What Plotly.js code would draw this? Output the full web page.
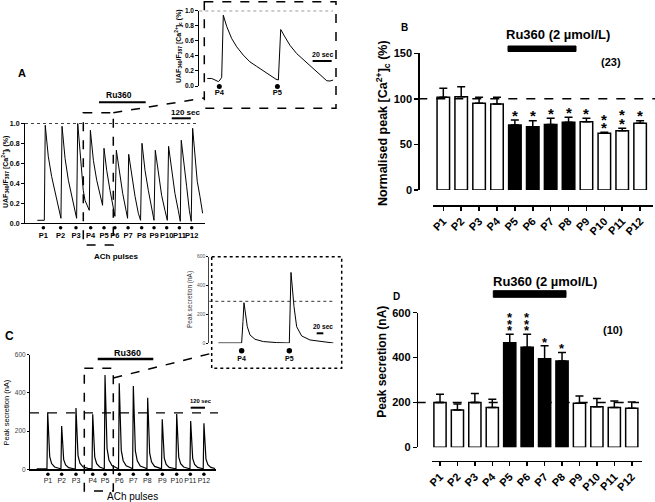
<!DOCTYPE html>
<html>
<head>
<meta charset="utf-8">
<script src="https://cdn.plot.ly/plotly-3.0.1.min.js"></script>
<style>html,body{margin:0;padding:0;background:#fff;}#chart{width:655px;height:502px;}</style>
</head>
<body>
<div id="chart"></div>
<script>
// ---------------- DATA ----------------
const pulseLabels = ['P1','P2','P3','P4','P5','P6','P7','P8','P9','P10','P11','P12'];
const ru360Pulses = [false,false,false,false,true,true,true,true,false,false,false,false];

// Panel A: [Ca2+]i ratio trace (time in s)
const aTime = [78,116,122,128,147,168,189,211,227, 234,253,274,295,316,326, 333,347,358,368,379,394,406,
  413,432,453,474,490, 499,516,537,558,568, 577,596,617,638,648, 655,674,695,716,730,
  739,758,779,800,815, 823,842,863,884,899, 907,926,947,968,981, 987,1004,1021,1038,1050,
  1059,1074,1088,1105,1122];
const aRatio = [0.03,0.03,0.03,0.98,0.67,0.47,0.32,0.18,0.05, 0.97,0.65,0.43,0.27,0.13,0.05, 1.0,0.7,0.5,0.33,0.23,0.18,0.13,
  0.93,0.63,0.43,0.28,0.18, 0.75,0.53,0.33,0.15,0.07, 0.73,0.5,0.3,0.13,0.05, 0.69,0.47,0.27,0.1,0.03,
  0.8,0.53,0.33,0.17,0.03, 0.73,0.5,0.28,0.13,0.03, 0.77,0.52,0.3,0.13,0.02, 0.83,0.57,0.37,0.13,0.02,
  0.95,0.67,0.42,0.27,0.1];
const aPulseTime = [116,225,322,415,499,568,651,737,815,895,975,1053];
const aRefLevel = 1.0;

// Panel A inset (P4, P5)
const insetATime = [8.4,13,16.5,20,21.7,23.5,25.2,28.8,34,39.3,46.2,53.2,60.3,67.2,74.2,80.5,83,
  85.5,90,95.2,102.3,109.2,116.2,123.3,130.2,133.8,137.2,140.7];
const insetARatio = [0.10,0.10,0.08,0.058,0.08,0.115,0.94,0.79,0.63,0.52,0.41,0.32,0.26,0.20,0.15,0.09,0.08,
  0.75,0.65,0.54,0.43,0.35,0.28,0.20,0.115,0.07,0.066,0.08];
const insetAPulseTime = [21,82];
const insetPulseLabels = ['P4','P5'];

// Panel B: normalised peak [Ca2+]c (%)
const bMean = [101.7,102.4,95.1,94.4,71.3,69.5,72.0,74.3,75.0,62.2,65.1,73.2];
const bErr  = [9.9,11.0,6.6,7.3,5.5,6.5,6.7,5.5,3.7,1.1,2.6,2.8];
const bStars = [0,0,0,0,1,1,1,1,1,2,2,1];
const bRefLevel = 100;

// Panel C: secretion trace (nA)
const cTime = [56,100, 142,148,156,165,181,206,248, 259,265,273,282,298,323,365, 379,385,393,402,418,443,485,
  519,525,533,542,558,583,615, 622,628,636,645,661,686,728, 741,747,755,764,780,805,847,
  859,865,873,882,898,923,965, 979,985,993,1002,1018,1043,1085, 1101,1107,1115,1124,1140,1165,1207,
  1222,1228,1236,1245,1261,1286,1328, 1339,1345,1353,1362,1378,1403,1440, 1450,1456,1464,1473,1489,1514,1549];
const cSecretion = [3,3, 2,298,134,66,30,12,4, 2,227,102,50,23,9,3, 2,321,144,71,32,13,5,
  2,288,130,63,29,12,4, 3,494,222,109,49,20,7, 3,450,203,99,45,18,7,
  3,436,196,96,44,17,7, 3,375,169,83,38,15,6, 2,262,118,58,26,10,4,
  2,290,131,64,29,12,4, 2,253,114,56,25,10,4, 2,241,108,53,24,10,4];
const cPulseTime = [150,265,385,525,628,748,865,982,1108,1228,1342,1456];
const cRefLevel = 295;

// Panel C inset (P4, P5)
const insetCTime = [27,97,101,104,114,122,137,162,202,238,240,245,254,262,277,302,342,372];
const insetCSecretion = [2,2,150,281,115,58,28,12,5,1,2,491,254,115,51,23,9,2];
const insetCPulseTime = [97,240];
const insetCRefLevel = 291;

// Panel D: peak secretion (nA)
const dMean = [200,166,200,177,466,446,395,385,196,181,177,174];
const dErr  = [37,27,40,37,38,58,58,38,33,37,29,28];
const dStars = [0,0,0,0,3,3,1,1,0,0,0,0];
const dRefLevel = 200;

// ---------------- LAYOUT HELPERS ----------------
const W = 655, H = 502;
const px = x => x / W;
const py = y => 1 - y / H;
const FONT = 'Liberation Sans, Arial, sans-serif';
const idx = pulseLabels.map((_, i) => i);

function ann(text, x, y, size, o) {
  o = o || {};
  return Object.assign({
    text: text, x: px(x), y: py(y), xref: 'paper', yref: 'paper', showarrow: false,
    xanchor: 'center', yanchor: 'middle',
    font: {family: FONT, size: size, color: o.color || 'black', weight: o.bold === false ? 'normal' : 'bold'}
  }, o.extra || {});
}
function pline(x0, y0, x1, y1, w, dash) {
  return {type: 'line', xref: 'paper', yref: 'paper', x0: px(x0), y0: py(y0), x1: px(x1), y1: py(y1),
    line: {color: 'black', width: w, dash: dash || 'solid'}};
}
function prect(x0, y0, x1, y1, w, dash, fill) {
  return {type: 'rect', xref: 'paper', yref: 'paper', x0: px(x0), y0: py(y0), x1: px(x1), y1: py(y1),
    line: {color: 'black', width: w, dash: dash || 'solid'}, fillcolor: fill || 'rgba(0,0,0,0)'};
}

const traces = [];
// A main
traces.push({x: aTime, y: aRatio, xaxis: 'x', yaxis: 'y', mode: 'lines', line: {color: 'black', width: 1}});
traces.push({x: aPulseTime, y: aPulseTime.map(() => 0.5), xaxis: 'x', yaxis: 'y7', mode: 'markers',
  marker: {color: 'black', size: 3.5}});
// A inset
traces.push({x: insetATime, y: insetARatio, xaxis: 'x2', yaxis: 'y2', mode: 'lines', line: {color: 'black', width: 1}});
traces.push({x: insetAPulseTime, y: insetAPulseTime.map(() => 0.5), xaxis: 'x2', yaxis: 'y8', mode: 'markers',
  marker: {color: 'black', size: 5}});
// B bars
traces.push({type: 'bar', x: idx, y: bMean, xaxis: 'x3', yaxis: 'y3', width: 0.7,
  marker: {color: ru360Pulses.map(r => r ? 'black' : 'white'), line: {color: 'black', width: 1.5}},
  error_y: {type: 'data', symmetric: false, array: bErr, arrayminus: bErr.map(() => 0), color: 'black', thickness: 1.5, width: 4}});
// C main
traces.push({x: cTime, y: cSecretion, xaxis: 'x4', yaxis: 'y4', mode: 'lines', line: {color: 'black', width: 1.2}});
traces.push({x: cPulseTime, y: cPulseTime.map(() => 0.5), xaxis: 'x4', yaxis: 'y9', mode: 'markers',
  marker: {color: 'black', size: 3.5}});
// C inset
traces.push({x: insetCTime, y: insetCSecretion, xaxis: 'x5', yaxis: 'y5', mode: 'lines', line: {color: 'black', width: 1}});
traces.push({x: insetCPulseTime, y: insetCPulseTime.map(() => 0.5), xaxis: 'x5', yaxis: 'y10', mode: 'markers',
  marker: {color: 'black', size: 5.5}});
// D bars
traces.push({type: 'bar', x: idx, y: dMean, xaxis: 'x6', yaxis: 'y6', width: 0.7,
  marker: {color: ru360Pulses.map(r => r ? 'black' : 'white'), line: {color: 'black', width: 1.5}},
  error_y: {type: 'data', symmetric: false, array: dErr, arrayminus: dErr.map(() => 0), color: 'black', thickness: 1.5, width: 4}});

const base = {showgrid: false, zeroline: false, linecolor: 'black', tickcolor: 'black', fixedrange: true};
function dotAxis(anchor, centerPy) {
  return {domain: [py(centerPy + 4), py(centerPy - 4)], range: [0, 1], anchor: anchor, visible: false,
    showgrid: false, zeroline: false, fixedrange: true};
}

const layout = {
  width: W, height: H, margin: {l: 0, r: 0, t: 0, b: 0}, showlegend: false,
  paper_bgcolor: 'white', plot_bgcolor: 'rgba(0,0,0,0)', font: {family: FONT, color: 'black'},
  bargap: 0,
  // A main
  xaxis: Object.assign({}, base, {domain: [px(25), px(205)], range: [0, 1137], anchor: 'y', showline: true, linewidth: 1,
    ticks: '', tickangle: 0, tickvals: aPulseTime, ticktext: pulseLabels, ticklabelstandoff: 5,
    tickfont: {family: FONT, size: 7.5, weight: 'bold'}}),
  yaxis: Object.assign({}, base, {domain: [py(223.3), py(123.3)], range: [0, 1], anchor: 'x', showline: true, linewidth: 1,
    ticks: 'outside', ticklen: 3, tickvals: [0, 0.2, 0.4, 0.6, 0.8, 1.0], tickformat: '.1f',
    tickfont: {family: FONT, size: 7, weight: 'bold'}}),
  yaxis7: dotAxis('x', 227.8),
  // A inset
  xaxis2: Object.assign({}, base, {domain: [px(199.3), px(333.3)], range: [0, 140.7], anchor: 'y2', showline: false,
    ticks: '', tickangle: 0, tickvals: insetAPulseTime, ticktext: insetPulseLabels, ticklabelstandoff: 1.5,
    tickfont: {family: FONT, size: 7.5, weight: 'bold'}}),
  yaxis2: Object.assign({}, base, {domain: [py(86), py(10.7)], range: [0, 1], anchor: 'x2', showline: true, linewidth: 1,
    ticks: 'outside', ticklen: 3, tickvals: [0, 0.2, 0.4, 0.6, 0.8, 1.0], tickformat: '.1f',
    tickfont: {family: FONT, size: 6.5, weight: 'bold'}}),
  yaxis8: dotAxis('x2', 86.5),
  // B
  xaxis3: Object.assign({}, base, {domain: [px(432.7), px(653)], range: [-0.593, 11.72], anchor: 'free', position: py(205),
    showline: true, linewidth: 1.5, ticks: 'outside', ticklen: 4, tickwidth: 1.5, tickvals: idx, ticktext: pulseLabels,
    tickangle: -45, tickfont: {family: FONT, size: 11, weight: 'bold'}}),
  yaxis3: Object.assign({}, base, {domain: [py(190), py(53.3)], range: [0, 150], anchor: 'free', position: px(418.3),
    showline: true, linewidth: 1.5, ticks: 'outside', ticklen: 4, tickwidth: 1.5, tickvals: [0, 50, 100, 150],
    tickfont: {family: FONT, size: 11, weight: 'bold'}}),
  // C main
  xaxis4: Object.assign({}, base, {domain: [px(30), px(216)], range: [0, 1557], anchor: 'y4', showline: true, linewidth: 1.5,
    ticks: '', tickangle: 0, tickvals: cPulseTime, ticktext: pulseLabels, ticklabelstandoff: 4,
    tickfont: {family: FONT, size: 7, color: '#222'}}),
  yaxis4: Object.assign({}, base, {domain: [py(469.3), py(354.7)], range: [0, 600], anchor: 'x4', showline: true, linewidth: 1,
    ticks: 'outside', ticklen: 2, tickvals: [0, 200, 400, 600], tickfont: {family: FONT, size: 6.5, color: '#444'}}),
  yaxis9: dotAxis('x4', 474.3),
  // C inset
  xaxis5: Object.assign({}, base, {domain: [px(209.3), px(336)], range: [0, 380], anchor: 'y5', showline: false,
    ticks: '', tickangle: 0, tickvals: insetCPulseTime, ticktext: insetPulseLabels, ticklabelstandoff: 10,
    tickfont: {family: FONT, size: 7, weight: 'bold'}}),
  yaxis5: Object.assign({}, base, {domain: [py(343.3), py(256.7)], range: [0, 600], anchor: 'x5', showline: true, linewidth: 1,
    linecolor: '#444', ticks: 'outside', ticklen: 2, tickvals: [0, 200, 400, 600], tickfont: {family: FONT, size: 5, color: '#555'}}),
  yaxis10: dotAxis('x5', 350.7),
  // D
  xaxis6: Object.assign({}, base, {domain: [px(431.7), px(641.7)], range: [-0.476, 11.57], anchor: 'free', position: py(460.7),
    showline: true, linewidth: 1.5, ticks: 'outside', ticklen: 4, tickwidth: 1.5, tickvals: idx, ticktext: pulseLabels,
    tickangle: -45, tickfont: {family: FONT, size: 11, weight: 'bold'}}),
  yaxis6: Object.assign({}, base, {domain: [py(447.3), py(312.7)], range: [0, 600], anchor: 'free', position: px(416.7),
    showline: true, linewidth: 1.5, ticks: 'outside', ticklen: 4, tickwidth: 1.5, tickvals: [0, 200, 400, 600],
    tickfont: {family: FONT, size: 11, weight: 'bold'}}),
  shapes: [],
  annotations: []
};

const S = layout.shapes;
// A decorations
S.push(prect(83.3, 112.7, 113.3, 245, 1.5, 'dash'));
S.push(pline(113.3, 112.7, 204.3, 98, 1.5, 'dash'));
S.push(prect(204.3, 1.7, 336, 108.3, 1.5, 'dash'));
S.push({type: 'line', xref: 'paper', yref: 'y', x0: px(25), x1: px(198), y0: aRefLevel, y1: aRefLevel, line: {color: 'black', width: 1.2, dash: 'dot'}});
S.push({type: 'line', xref: 'paper', yref: 'y2', x0: px(199.3), x1: px(333), y0: aRefLevel, y1: aRefLevel, line: {color: 'black', width: 1, dash: 'dot'}});
S.push(pline(99, 102.3, 145.7, 102.3, 2));
S.push({type: 'line', xref: 'x', yref: 'paper', x0: 927, x1: 1047, y0: py(118.3), y1: py(118.3), line: {color: 'black', width: 2}});
S.push({type: 'line', xref: 'x2', yref: 'paper', x0: 119, x1: 139, y0: py(61), y1: py(61), line: {color: 'black', width: 2}});
// B decorations
S.push({type: 'line', xref: 'paper', yref: 'y3', x0: px(418.3), x1: px(655), y0: bRefLevel, y1: bRefLevel, line: {color: 'black', width: 1.5, dash: 'dash'}});
S.push(prect(508, 46, 576, 51.5, 1, 'solid', 'black'));
// C decorations
S.push(prect(84.3, 368.3, 113.3, 491, 1.5, 'dash'));
S.push(pline(113.3, 378, 211.7, 353.3, 1.5, 'dash'));
S.push(prect(211.7, 256.7, 341.7, 368.3, 1.5, 'dot'));
S.push({type: 'line', xref: 'paper', yref: 'y4', x0: px(30), x1: px(218), y0: cRefLevel, y1: cRefLevel, line: {color: 'black', width: 1.2, dash: 'dash'}});
S.push({type: 'line', xref: 'paper', yref: 'y5', x0: px(209.3), x1: px(333.3), y0: insetCRefLevel, y1: insetCRefLevel, line: {color: '#333', width: 1, dash: 'dot'}});
S.push(pline(97.7, 359, 153.3, 359, 2.5));
S.push({type: 'line', xref: 'x4', yref: 'paper', x0: 1345, x1: 1465, y0: py(407.7), y1: py(407.7), line: {color: 'black', width: 2}});
S.push({type: 'line', xref: 'x5', yref: 'paper', x0: 322, x1: 342, y0: py(333.3), y1: py(333.3), line: {color: 'black', width: 2}});
// D decorations
S.push({type: 'line', xref: 'paper', yref: 'y6', x0: px(416.7), x1: px(639), y0: dRefLevel, y1: dRefLevel, line: {color: 'black', width: 1.5, dash: 'dash'}});
S.push(prect(493.3, 290.7, 566, 297.3, 1, 'solid', 'black'));

const A = layout.annotations;
// A texts
A.push(ann('A', 22, 73, 11));
A.push(ann('UAF<sub>340</sub>/F<sub>387</sub> [Ca<sup>2+</sup>]<sub>i</sub> (%)', 6, 172, 7, {extra: {textangle: -90}}));
A.push(ann('Ru360', 119, 95, 8.5));
A.push(ann('120 sec', 185, 112.5, 8));
A.push(ann('ACh pulses', 116, 256.5, 8));
A.push(ann('UAF<sub>340</sub>/F<sub>387</sub> [Ca<sup>2+</sup>]<sub>c</sub> (%)', 178, 46, 7, {extra: {textangle: -90}}));
A.push(ann('20 sec', 322.5, 54.3, 7));
// B texts
A.push(ann('B', 404, 27.7, 10));
A.push(ann('Ru360 (2 µmol/L)', 558, 35, 13));
A.push(ann('(23)', 611, 61.7, 11));
A.push(ann('Normalised peak [Ca<sup>2+</sup>]<sub>c</sub> (%)', 383, 123, 12.5, {extra: {textangle: -90}}));
// C texts
A.push(ann('C', 9.5, 336, 12));
A.push(ann('Peak secretion (nA)', 5.5, 413, 7.5, {bold: false, extra: {textangle: -90}}));
A.push(ann('Ru360', 127, 352.7, 9));
A.push(ann('120 sec', 200.7, 401, 5.8));
A.push(ann('ACh pulses', 132, 496.5, 10, {bold: false}));
A.push(ann('Peak secretion (nA)', 190, 300, 6.5, {bold: false, color: '#333', extra: {textangle: -90}}));
A.push(ann('20 sec', 323, 326.7, 6.5));
// D texts
A.push(ann('D', 396, 296.7, 10));
A.push(ann('Ru360 (2 µmol/L)', 545, 281.7, 13));
A.push(ann('(10)', 613, 330, 11));
A.push(ann('Peak secretion (nA)', 382, 361.7, 12, {extra: {textangle: -90}}));

// significance stars
function addStars(means, errs, stars, xr, yr, size, first, step) {
  stars.forEach((n, i) => {
    for (let k = 0; k < n; k++) {
      A.push({text: '*', x: i, y: means[i] + errs[i], xref: xr, yref: yr, showarrow: false,
        xanchor: 'center', yanchor: 'middle', yshift: first + k * step,
        font: {family: FONT, size: size, color: 'black', weight: 'bold'}});
    }
  });
}
addStars(bMean, bErr, bStars, 'x3', 'y3', 15, 5, 8.3);
addStars(dMean, dErr, dStars, 'x6', 'y6', 13, 3.5, 6.7);

Plotly.newPlot('chart', traces, layout, {displayModeBar: false, staticPlot: true});
</script>
</body>
</html>
